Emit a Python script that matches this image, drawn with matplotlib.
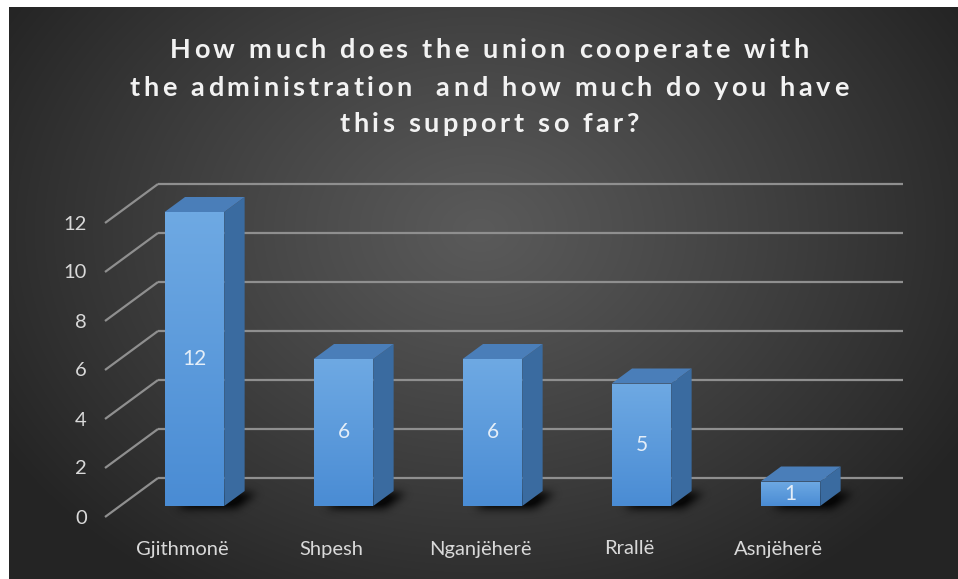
import numpy as np
import matplotlib
matplotlib.use("Agg")
import matplotlib.pyplot as plt
from matplotlib.patches import Polygon
from matplotlib.path import Path
from matplotlib.font_manager import FontProperties

# ---- data ----
categories = ["Gjithmonë", "Shpesh", "Nganjëherë", "Rrallë", "Asnjëherë"]
values = [12, 6, 6, 5, 1]
yticks = [0, 2, 4, 6, 8, 10, 12]
title_lines = [
    "How much does the union cooperate with",
    "the administration  and how much do you have",
    "this support so far?",
]

W, H = 958, 579
fig = plt.figure(figsize=(W / 100, H / 100), dpi=100, facecolor="white")

# full-figure canvas in pixel units (y downwards) for the 3D faces
bg = fig.add_axes([0, 0, 1, 1])
bg.axis("off")

# radial dark-grey backdrop
x0, y0 = 9, 7
yy, xx = np.mgrid[y0:H, x0:W].astype(float)
r = np.hypot((xx - 480) / 560, (yy - 230) / 430)
t = np.clip(r, 0, 1) ** 1.1
inner = np.array([90, 90, 90]) / 255
outer = np.array([36, 36, 36]) / 255
img = inner + (outer - inner) * t[..., None]
bg.imshow(img, extent=(x0, W, H, y0), zorder=0, interpolation="bilinear", aspect="auto")
bg.set_xlim(0, W)
bg.set_ylim(H, 0)

# value axes: category index vs value on the back wall
ax = fig.add_axes([158 / W, 1 - 478 / H, (903 - 158) / W, (478 - 184) / H])
ax.set_xlim(-0.5, len(categories) - 0.5)
ax.set_ylim(0, 12)
ax.axis("off")

DX, DY = -53.0, 39.0          # depth offset from back wall to front edge
F_BACK, F_FRONT = 13 / 39, 28 / 39
BAR_W = 0.40


def P(x, v, f=0.0):
    disp = ax.transData.transform((x, v))
    px, py = bg.transData.inverted().transform(disp)
    return (px + DX * f, py + DY * f)


grid_c = "#8f8f8f"
tick_c = "#d9d9d9"
lab_font = dict(family=["Lato", "DejaVu Sans"], size=14.5, color=tick_c)

# gridlines on the back wall plus the receding floor lines
for v in yticks:
    a = P(-0.5, v, 0)
    b = P(len(categories) - 0.5, v, 0)
    c = P(-0.5, v, 1)
    bg.plot([a[0], b[0]], [a[1], b[1]], color=grid_c, lw=1.6, zorder=1, solid_capstyle="butt")
    bg.plot([a[0], c[0]], [a[1], c[1]], color=grid_c, lw=1.6, zorder=1, solid_capstyle="butt")
    bg.text(c[0] - 18, c[1] + 1, str(v), ha="right", va="center", **lab_font)

# category labels along the front edge
for i, name in enumerate(categories):
    p = P(i, 0, 1)
    bg.text(p[0] + 3, p[1] + 32, name, ha="center", va="center", **lab_font)

# soft floor shadows behind/right of each bar
sh = np.zeros((H, W))
gy, gx = np.mgrid[0:H, 0:W]
pts = np.column_stack([gx.ravel() + 0.5, gy.ravel() + 0.5])
for i, v in enumerate(values):
    l, rgt = i - BAR_W / 2, i + BAR_W / 2
    poly = [P(l, 0, F_FRONT), P(rgt, 0, F_FRONT), P(rgt, 0, F_BACK), P(l, 0, F_BACK)]
    poly = [(x + 12, y + 2) for x, y in poly]
    mask = Path(poly).contains_points(pts).reshape(H, W)
    sh = np.maximum(sh, mask.astype(float))
k = np.exp(-0.5 * (np.arange(-12, 13) / 4.5) ** 2)
k /= k.sum()
sh = np.apply_along_axis(lambda m: np.convolve(m, k, mode="same"), 0, sh)
sh = np.apply_along_axis(lambda m: np.convolve(m, k, mode="same"), 1, sh)
shadow = np.zeros((H, W, 4))
shadow[..., 3] = np.clip(sh * 1.3, 0, 1) * 0.85
bg.imshow(shadow, extent=(0, W, H, 0), zorder=2, aspect="auto", interpolation="bilinear")
bg.set_xlim(0, W)
bg.set_ylim(H, 0)

# 3D bars
front_top = np.array([0x6e, 0xa9, 0xe3]) / 255
front_bot = np.array([0x4a, 0x8c, 0xd4]) / 255
side_c = "#3a6ba0"
top_c = "#4a7eb9"
for i, v in enumerate(values):
    l, rgt = i - BAR_W / 2, i + BAR_W / 2
    front = [P(l, 0, F_FRONT), P(rgt, 0, F_FRONT), P(rgt, v, F_FRONT), P(l, v, F_FRONT)]
    side = [P(rgt, 0, F_FRONT), P(rgt, 0, F_BACK), P(rgt, v, F_BACK), P(rgt, v, F_FRONT)]
    top = [P(l, v, F_FRONT), P(rgt, v, F_FRONT), P(rgt, v, F_BACK), P(l, v, F_BACK)]
    bg.add_patch(Polygon(side, closed=True, facecolor=side_c, edgecolor="none", zorder=3))
    bg.add_patch(Polygon(top, closed=True, facecolor=top_c, edgecolor="none", zorder=3))
    fp = Polygon(front, closed=True, facecolor="none", edgecolor="none", zorder=3)
    bg.add_patch(fp)
    xs = [p[0] for p in front]
    ys = [p[1] for p in front]
    grad = np.linspace(0, 1, 64)[:, None, None]
    gimg = front_top + (front_bot - front_top) * grad
    gimg = np.repeat(gimg, 2, axis=1)
    im = bg.imshow(gimg, extent=(min(xs), max(xs), max(ys), min(ys)), zorder=3.5,
                   aspect="auto", interpolation="bilinear")
    im.set_clip_path(fp)
    c = P(i, v / 2, F_FRONT)
    bg.text(c[0], c[1], str(v), ha="center", va="center", zorder=5,
            family=["Lato", "DejaVu Sans"], size=15, color="#e4eef8")
bg.set_xlim(0, W)
bg.set_ylim(H, 0)

# letter-spaced bold title
renderer = fig.canvas.get_renderer()
tprop = FontProperties(family=["Lato", "DejaVu Sans"], weight="bold", size=19.5)


def adv(ch):
    w1 = renderer.get_text_width_height_descent("n" + ch + "n", tprop, ismath=False)[0]
    w0 = renderer.get_text_width_height_descent("nn", tprop, ismath=False)[0]
    return w1 - w0


spacing = 3.6
for line, ly in zip(title_lines, [50, 88, 124]):
    advs = [adv(ch) for ch in line]
    total = sum(advs) + spacing * (len(line) - 1)
    x = 489 - total / 2
    for ch, a in zip(line, advs):
        if ch != " ":
            bg.text(x, ly, ch, ha="left", va="center", fontproperties=tprop,
                    color="#f2f2f2", zorder=6)
        x += a + spacing

fig.savefig("out.png", dpi=100, facecolor="white")
